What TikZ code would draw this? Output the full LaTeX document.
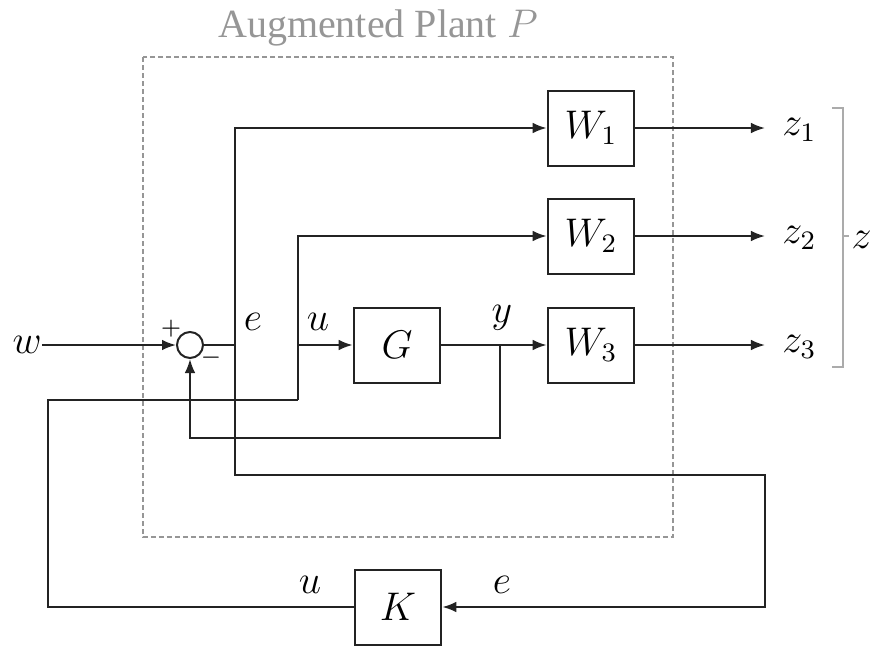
\documentclass[tikz,border=0pt]{standalone}
\usepackage{fontspec}
\setmainfont{Liberation Serif}
\usetikzlibrary{
  arrows.meta,
  positioning,
  calc
}
\definecolor{plantgray}{RGB}{150,150,150}
\definecolor{wireblack}{RGB}{35,35,35}
\tikzset{
  block/.style={
    draw=wireblack,
    line width=0.6pt,
    minimum width=26pt,
    minimum height=22.5pt,
    inner sep=0pt,
    font=\large
  },
  sumnode/.style={circle,draw=wireblack,line width=0.6pt,minimum size=7.8pt,inner sep=0pt},
  signal/.style={-{Latex[length=4.2pt,width=3.2pt]},line width=0.6pt,draw=wireblack},
  wire/.style={line width=0.6pt,draw=wireblack},
  siglabel/.style={font=\large,inner sep=0pt},
  outlabel/.style={font=\large,inner xsep=5pt,inner ysep=0pt,anchor=west},
  signlabel/.style={font=\scriptsize,inner sep=0pt},
  plantbox/.style={draw=plantgray,dash pattern=on 1.4pt off 1pt,line width=0.45pt},
  bracket/.style={draw=plantgray!80,line width=0.6pt},
}

\begin{document}
\begin{tikzpicture}[x=0.3pt,y=-0.3pt]
  \useasboundingbox (0,0) rectangle (871,646);

  % augmented plant frame
  \draw[plantbox] (143,57) rectangle (673,537);
  \node[plantgray,font=\large] (title) at (378,28) {Augmented Plant $P$};

  % blocks
  \node[sumnode] (sum) at (190,345) {};
  \node[block] (G) at (397,345) {$G$};
  \node[block] (W1) at (591,128) {$W_1$};
  \node[block] (W2) at (591,236) {$W_2$};
  \node[block] (W3) at (591,345) {$W_3$};
  \node[block] (K) at (398,607) {$K$};

  % branch points and corners
  \coordinate (win) at (42,345);
  \coordinate (ebr) at (235,345);
  \coordinate (edown) at (235,475);
  \coordinate (ecorner) at (765,475);
  \coordinate (ucorner) at (48,400);
  \coordinate (ujoin) at (298,400);
  \coordinate (ubr) at (298,345);
  \coordinate (ybr) at (500,345);
  \coordinate (ydown) at (500,438);

  % outputs
  \node[outlabel] (z1) at (765,130) {$z_1$};
  \node[outlabel] (z2) at (765,238) {$z_2$};
  \node[outlabel] (z3) at (765,347) {$z_3$};
  \node[siglabel,anchor=west] (w) at (12,345) {$w$};

  % signals
  \draw[signal] (win) -- (sum.west);
  \draw[wire] (sum.east) -- (ebr);
  \draw[signal] (ebr) |- (W1.west);
  \draw[signal] (ebr) -- (edown) -- (ecorner) |- (K.east);
  \draw[wire] (K.west) -| (ucorner) -- (ujoin);
  \draw[signal] (ujoin) |- (W2.west);
  \draw[signal] (ubr) -- (G.west);
  \draw[signal] (G.east) -- (W3.west);
  \draw[signal] (ybr) -- (ydown) -| (sum.south);
  \draw[signal] (W1.east) -- (W1.east -| z1.west);
  \draw[signal] (W2.east) -- (W2.east -| z2.west);
  \draw[signal] (W3.east) -- (W3.east -| z3.west);

  % signal labels
  \node[siglabel] (elab) at (253,322) {$e$};
  \node[siglabel] (ulab) at (318,322) {$u$};
  \node[siglabel] (ylab) at (502,318) {$y$};
  \node[siglabel] (uKlab) at (310,585) {$u$};
  \node[siglabel] (eKlab) at (502,585) {$e$};
  \node[signlabel] (plus) at (171,329) {$+$};
  \node[signlabel] (minus) at (211,358) {$-$};

  % grouping bracket
  \coordinate (btop) at (832,108);
  \coordinate (bbot) at (832,367);
  \coordinate (bmid) at (843,236);
  \node[siglabel,anchor=west] (z) at (851,240) {$z$};
  \draw[bracket] (btop) -- (843,108) -- (843,367) -- (bbot);
  \draw[bracket] (bmid) -- (849,236);
\end{tikzpicture}
\end{document}
